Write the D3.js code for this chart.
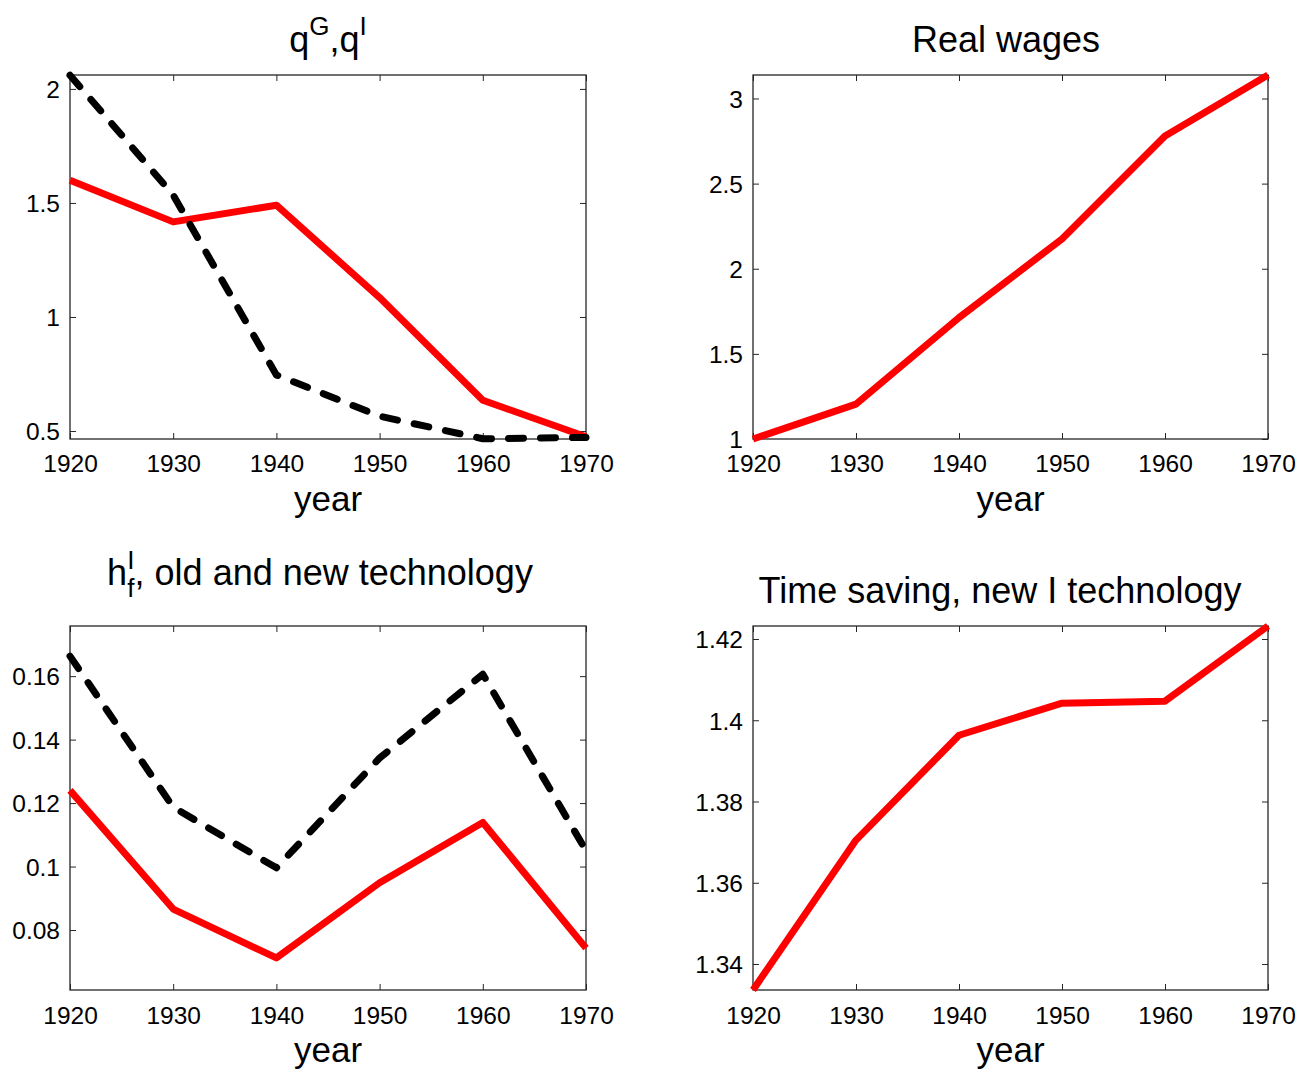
<!DOCTYPE html>
<html>
<head>
<meta charset="utf-8">
<script src="https://cdn.jsdelivr.net/npm/d3@7"></script>
<style>
  html, body { margin: 0; padding: 0; background: #fff; }
  svg { display: block; font-family: "Liberation Sans", Arial, sans-serif; }
</style>
</head>
<body>
<svg id="chart" width="1312" height="1075"></svg>
<script>
// Decades on the horizontal axis
const years = [1920, 1930, 1940, 1950, 1960, 1970];

// Panel 1: relative prices q^G (solid red) and q^I (dashed black)
const qG = [1.60, 1.417, 1.49, 1.085, 0.635, 0.475];
const qI = [2.06, 1.535, 0.746, 0.565, 0.466, 0.472];

// Panel 2: real wages
const realWages = [1.0, 1.205, 1.713, 2.175, 2.78, 3.138];

// Panel 3: h_f^I, new technology (solid red) and old technology (dashed black)
const hNew = [0.124, 0.0866, 0.0712, 0.0949, 0.1139, 0.0743];
const hOld = [0.1663, 0.1187, 0.0996, 0.1342, 0.1606, 0.105];

// Panel 4: time saving of the new I technology
const timeSaving = [1.3336, 1.3705, 1.3963, 1.4042, 1.4047, 1.4232];

// Tick labels per panel
const xTicks = [1920, 1930, 1940, 1950, 1960, 1970];
const yTicks1 = [0.5, 1, 1.5, 2];
const yTicks2 = [1, 1.5, 2, 2.5, 3];
const yTicks3 = [0.08, 0.1, 0.12, 0.14, 0.16];
const yTicks4 = [1.34, 1.36, 1.38, 1.4, 1.42];

const svg = d3.select("#chart");

const panels = [
  { x0: 70, x1: 586, y0: 75, y1: 439, yDomain: [0.465, 2.061], yTicks: yTicks1,
    series: [{ v: qG, dashed: false }, { v: qI, dashed: true }],
    titleKind: "q", titleX: 328, titleY: 52, xLabY: 472, yearY: 511 },
  { x0: 753, x1: 1268, y0: 75, y1: 439, yDomain: [1.0, 3.138], yTicks: yTicks2,
    series: [{ v: realWages, dashed: false }],
    title: "Real wages", titleKind: "plain", titleX: 1006, titleY: 52, xLabY: 472, yearY: 511 },
  { x0: 70, x1: 586, y0: 626, y1: 990, yDomain: [0.0611, 0.1758], yTicks: yTicks3,
    series: [{ v: hNew, dashed: false }, { v: hOld, dashed: true }],
    titleKind: "h", titleX: 320, titleY: 585, xLabY: 1024, yearY: 1062 },
  { x0: 753, x1: 1268, y0: 626, y1: 990, yDomain: [1.3336, 1.4232], yTicks: yTicks4,
    series: [{ v: timeSaving, dashed: false }],
    title: "Time saving, new I technology", titleKind: "plain", titleX: 1000, titleY: 603, xLabY: 1024, yearY: 1062 }
];

const tickLen = 6;
const tickFont = 24.5;

panels.forEach(p => {
  const x = d3.scaleLinear().domain([1920, 1970]).range([p.x0, p.x1]);
  const y = d3.scaleLinear().domain(p.yDomain).range([p.y1, p.y0]);
  const g = svg.append("g");

  // Bottom axis with inward ticks
  const xAxis = g.append("g").attr("transform", `translate(0,${p.y1})`)
    .call(d3.axisBottom(x).tickValues(xTicks).tickFormat(d3.format("d"))
      .tickSizeInner(-tickLen).tickSizeOuter(0).tickPadding(0));
  xAxis.select(".domain").remove();
  xAxis.selectAll("line").attr("stroke", "#262626");
  xAxis.selectAll("text").attr("y", p.xLabY - p.y1).attr("dy", 0)
    .attr("font-size", tickFont).attr("fill", "#000");

  // Top mirrored ticks
  const xTop = g.append("g").attr("transform", `translate(0,${p.y0})`)
    .call(d3.axisTop(x).tickValues(xTicks).tickFormat("").tickSizeInner(-tickLen).tickSizeOuter(0));
  xTop.select(".domain").remove();
  xTop.selectAll("line").attr("stroke", "#262626");

  // Left axis with inward ticks
  const yAxis = g.append("g").attr("transform", `translate(${p.x0},0)`)
    .call(d3.axisLeft(y).tickValues(p.yTicks).tickFormat(d => String(d))
      .tickSizeInner(-tickLen).tickSizeOuter(0).tickPadding(0));
  yAxis.select(".domain").remove();
  yAxis.selectAll("line").attr("stroke", "#262626");
  yAxis.selectAll("text").attr("x", -10).attr("dy", "0.36em")
    .attr("font-size", tickFont).attr("fill", "#000").attr("text-anchor", "end");

  // Right mirrored ticks
  const yRight = g.append("g").attr("transform", `translate(${p.x1},0)`)
    .call(d3.axisRight(y).tickValues(p.yTicks).tickFormat("").tickSizeInner(-tickLen).tickSizeOuter(0));
  yRight.select(".domain").remove();
  yRight.selectAll("line").attr("stroke", "#262626");

  // Box around the axes
  g.append("rect")
    .attr("x", p.x0).attr("y", p.y0)
    .attr("width", p.x1 - p.x0).attr("height", p.y1 - p.y0)
    .attr("fill", "none").attr("stroke", "#262626").attr("stroke-width", 1.3);

  // Data lines
  const line = d3.line().x((d, i) => x(years[i])).y(d => y(d));
  p.series.forEach(s => {
    g.append("path")
      .datum(s.v)
      .attr("d", line)
      .attr("fill", "none")
      .attr("stroke", s.dashed ? "#000" : "#ff0000")
      .attr("stroke-width", 7)
      .attr("stroke-linejoin", "round")
      .attr("stroke-linecap", s.dashed ? "round" : "butt")
      .attr("stroke-dasharray", s.dashed ? "15,17" : null);
  });

  // x label
  g.append("text")
    .attr("x", (p.x0 + p.x1) / 2).attr("y", p.yearY)
    .attr("text-anchor", "middle").attr("font-size", 35).attr("fill", "#000")
    .text("year");

  // Title
  const t = g.append("text")
    .attr("x", p.titleX).attr("y", p.titleY)
    .attr("text-anchor", "middle").attr("font-size", 36).attr("fill", "#000");
  if (p.titleKind === "plain") {
    t.text(p.title);
  } else if (p.titleKind === "q") {
    t.append("tspan").text("q");
    t.append("tspan").attr("dy", -17).attr("font-size", 26).text("G");
    t.append("tspan").attr("dy", 17).text(",q");
    t.append("tspan").attr("dy", -17).attr("font-size", 26).text("I");
  } else if (p.titleKind === "h") {
    t.append("tspan").text("h");
    t.append("tspan").attr("dy", -16).attr("font-size", 26).text("I");
    t.append("tspan").attr("dx", -7).attr("dy", 28).attr("font-size", 26).text("f");
    t.append("tspan").attr("dy", -12).text(", old and new technology");
  }
});
</script>
</body>
</html>
